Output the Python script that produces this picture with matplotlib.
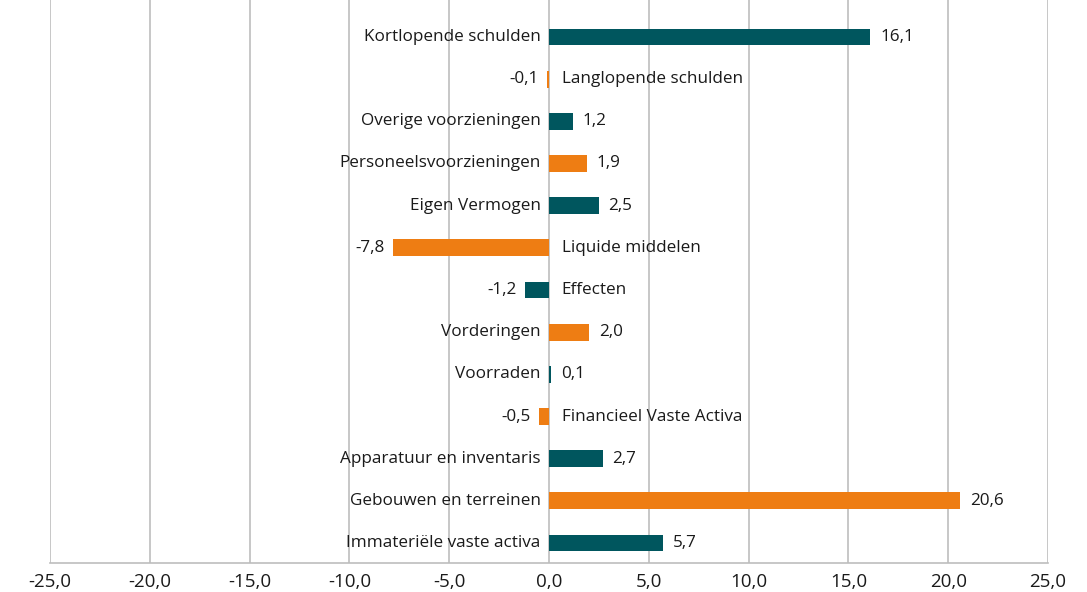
import matplotlib
matplotlib.use("Agg")
import matplotlib.pyplot as plt
from matplotlib.ticker import FuncFormatter

categories = [
    "Kortlopende schulden", "Langlopende schulden", "Overige voorzieningen",
    "Personeelsvoorzieningen", "Eigen Vermogen", "Liquide middelen", "Effecten",
    "Vorderingen", "Voorraden", "Financieel Vaste Activa",
    "Apparatuur en inventaris", "Gebouwen en terreinen", "Immateriële vaste activa",
]
values = [16.1, -0.1, 1.2, 1.9, 2.5, -7.8, -1.2, 2.0, 0.1, -0.5, 2.7, 20.6, 5.7]
ticks = [-25, -20, -15, -10, -5, 0, 5, 10, 15, 20, 25]

TEAL = "#00565E"
ORANGE = "#EE7D13"
GRID = "#BDBDBD"
TXT = "#1a1a1a"

plt.rcParams['font.family'] = ['Open Sans', 'DejaVu Sans']

fig = plt.figure(figsize=(10.87, 5.92), dpi=100)
ax = fig.add_axes([50/1087, (592-563)/592, (1048-50)/1087, 563/592])

n = len(categories)
ys = [n - 1 - i for i in range(n)]
colors = [TEAL if i % 2 == 0 else ORANGE for i in range(n)]
ax.barh(ys, values, height=0.4, color=colors, zorder=3)

ax.set_xlim(-25, 25)
ax.set_ylim(-0.474, n - 1 + 0.877)
ax.set_xticks(ticks)
ax.xaxis.set_major_formatter(FuncFormatter(lambda v, p: f"{v:.1f}".replace(".", ",")))
ax.tick_params(axis='x', length=0, pad=7, labelsize=13.5, colors=TXT)
ax.set_yticks([])
ax.grid(axis='x', color=GRID, linewidth=1.2, zorder=0)
for s in ['top', 'right', 'left']:
    ax.spines[s].set_visible(False)
ax.spines['bottom'].set_color(GRID)
ax.spines['bottom'].set_linewidth(1.2)

FS = 12.3
for y, v, c in zip(ys, values, categories):
    lab = f"{v:.1f}".replace(".", ",")
    if v >= 0:
        ax.annotate(c, (0, y), xytext=(-6, 0), textcoords='offset points',
                    ha='right', va='center', fontsize=FS, color=TXT, zorder=4)
        ax.annotate(lab, (v, y), xytext=(7, 0), textcoords='offset points',
                    ha='left', va='center', fontsize=FS, color=TXT, zorder=4)
    else:
        ax.annotate(c, (0, y), xytext=(9, 0), textcoords='offset points',
                    ha='left', va='center', fontsize=FS, color=TXT, zorder=4)
        ax.annotate(lab, (v, y), xytext=(-6, 0), textcoords='offset points',
                    ha='right', va='center', fontsize=FS, color=TXT, zorder=4)

fig.savefig("out.png", dpi=100)
